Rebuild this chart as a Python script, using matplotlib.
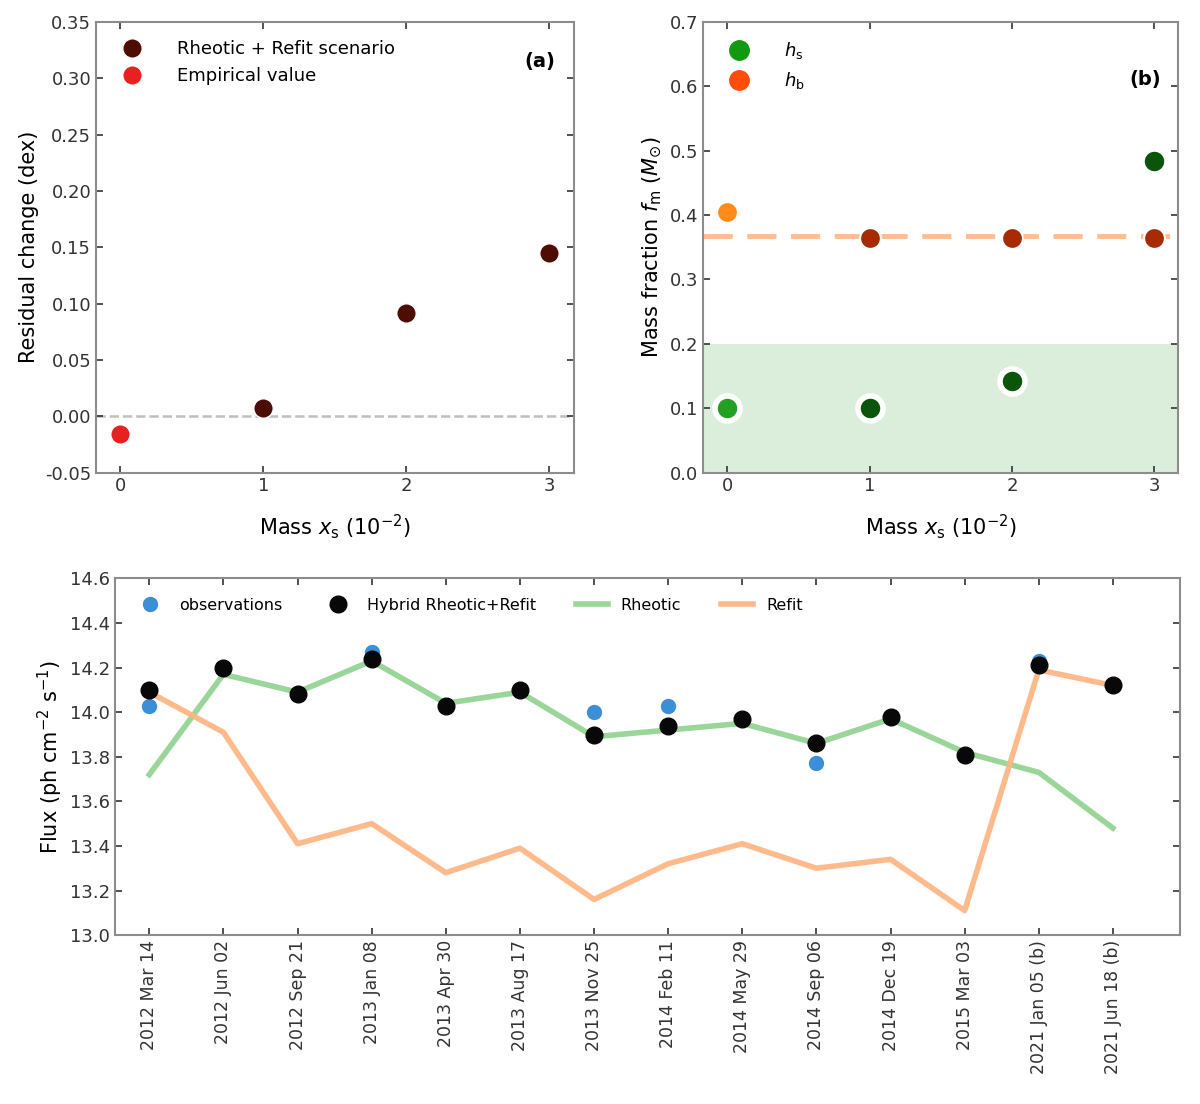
import numpy as np
import matplotlib
matplotlib.use("Agg")
import matplotlib.pyplot as plt

plt.rcParams['font.family'] = ['DejaVu Sans']
plt.rcParams['font.size'] = 13

# panel (a)
mass_x = [0, 1, 2, 3]
delta_model = [None, 0.007, 0.092, 0.145]
delta_emp = -0.016

# panel (b)
hs_vals = [0.10, 0.10, 0.142, 0.484]
hb_vals = [0.405, 0.364, 0.364, 0.364]
hb_line = 0.367
hs_band = 0.2

# panel (c)
samples = ["2012 Mar 14", "2012 Jun 02", "2012 Sep 21", "2013 Jan 08", "2013 Apr 30",
           "2013 Aug 17", "2013 Nov 25", "2014 Feb 11", "2014 May 29", "2014 Sep 06",
           "2014 Dec 19", "2015 Mar 03", "2021 Jan 05 (b)", "2021 Jun 18 (b)"]
obs = [14.03, 14.20, 14.08, 14.27, 14.03, 14.10, 14.00, 14.03, 13.97, 13.77, 13.98, 13.81, 14.23, 14.12]
hybrid = [14.10, 14.20, 14.08, 14.24, 14.03, 14.10, 13.90, 13.94, 13.97, 13.86, 13.98, 13.81, 14.21, 14.12]
rheotic = [13.72, 14.17, 14.09, 14.23, 14.04, 14.09, 13.89, 13.92, 13.95, 13.86, 13.97, 13.82, 13.73, 13.48]
refit = [14.09, 13.91, 13.41, 13.50, 13.28, 13.39, 13.16, 13.32, 13.41, 13.30, 13.34, 13.11, 14.19, 14.12]

fig = plt.figure(figsize=(12, 11.04), dpi=100)
ax1 = fig.add_axes([0.080, 0.572, 0.398, 0.408])
ax2 = fig.add_axes([0.586, 0.572, 0.396, 0.408])
ax3 = fig.add_axes([0.096, 0.153, 0.887, 0.323])

for ax in [ax1, ax2, ax3]:
    ax.tick_params(direction='in', top=True, right=True, length=5, width=1.2, colors='0.2')
    for s in ax.spines.values():
        s.set_color('0.55')
        s.set_linewidth(1.5)

# (a)
ax1.axhline(0, color='0.75', ls='--', lw=1.8, zorder=1)
ax1.plot(mass_x[1:], delta_model[1:], 'o', ms=14, color='#4d0d00', mec='white', mew=1,
         label='Rheotic + Refit scenario', zorder=3)
ax1.plot(mass_x[0], delta_emp, 'o', ms=14, color='#e82020', mec='white', mew=1,
         label='Empirical value', zorder=3)
ax1.set_xlim(-0.17, 3.17)
ax1.set_ylim(-0.05, 0.35)
ax1.set_xticks(mass_x)
ax1.set_yticks(np.arange(-0.05, 0.351, 0.05))
ax1.yaxis.set_major_formatter(matplotlib.ticker.FormatStrFormatter('%.2f'))
ax1.set_xlabel(r'Mass $x_{\rm s}$ ($10^{-2}$)', fontsize=15, labelpad=12)
ax1.set_ylabel('Residual change (dex)', fontsize=15)
ax1.legend(loc='upper left', frameon=False, fontsize=13, handletextpad=1.5, borderaxespad=0.6)
ax1.text(0.93, 0.9, '(a)', transform=ax1.transAxes, fontsize=14, fontweight='bold', ha='center')

# (b)
ax2.axhspan(0, hs_band, color='#2ca02c', alpha=0.17, lw=0, zorder=0)
ax2.axhline(hb_line, color='#ffbe8c', ls=(0, (6, 3)), lw=3.5, zorder=1)
hs_cols = ['#22a022', '#0a550a', '#0a550a', '#0a550a']
hb_cols = ['#ff8c1a', '#a82a00', '#a82a00', '#a82a00']
for i in range(4):
    ax2.plot(mass_x[i], hs_vals[i], 'o', ms=18, color=hs_cols[i], mec='white', mew=4, zorder=3)
    ax2.plot(mass_x[i], hb_vals[i], 'o', ms=15, color=hb_cols[i], mec='white', mew=1.5, zorder=3)
ax2.plot([], [], 'o', ms=14, color='#119911', label=r'$h_{\rm s}$')
ax2.plot([], [], 'o', ms=14, color='#ff4d0a', label=r'$h_{\rm b}$')
ax2.set_xlim(-0.17, 3.17)
ax2.set_ylim(0, 0.7)
ax2.set_xticks(mass_x)
ax2.set_yticks(np.arange(0, 0.71, 0.1))
ax2.set_xlabel(r'Mass $x_{\rm s}$ ($10^{-2}$)', fontsize=15, labelpad=12)
ax2.set_ylabel(r'Mass fraction $f_{\rm m}$ ($M_{\odot}$)', fontsize=15)
ax2.legend(loc='upper left', frameon=False, fontsize=13, handletextpad=1.5, borderaxespad=0.6)
ax2.text(0.93, 0.86, '(b)', transform=ax2.transAxes, fontsize=14, fontweight='bold', ha='center')

# (c)
xs = np.arange(len(samples))
ax3.plot(xs, rheotic, '-', color='#8fd18f', lw=4, alpha=0.9, label='Rheotic', zorder=1)
ax3.plot(xs, refit, '-', color='#ffb380', lw=4, alpha=0.9, label='Refit', zorder=1)
ax3.plot(xs, obs, 'o', ms=10, color='#3a8fd6', label='observations', zorder=2)
ax3.plot(xs, hybrid, 'o', ms=12, color='#080808', label='Hybrid Rheotic+Refit', zorder=3)
ax3.set_xlim(-0.46, 13.9)
ax3.set_ylim(13.0, 14.6)
ax3.set_yticks(np.arange(13.0, 14.61, 0.2))
ax3.yaxis.set_major_formatter(matplotlib.ticker.FormatStrFormatter('%.1f'))
ax3.set_xticks(xs)
ax3.set_xticklabels(samples, rotation=90, fontsize=12.5)
ax3.set_ylabel(r'Flux (ph cm$^{-2}$ s$^{-1}$)', fontsize=15)
h, l = ax3.get_legend_handles_labels()
order = [2, 3, 0, 1]
ax3.legend([h[i] for i in order], [l[i] for i in order], loc='upper left', ncol=4,
           frameon=False, fontsize=11.5, borderaxespad=0.8, columnspacing=2.5)

fig.savefig('out.png', dpi=100)
